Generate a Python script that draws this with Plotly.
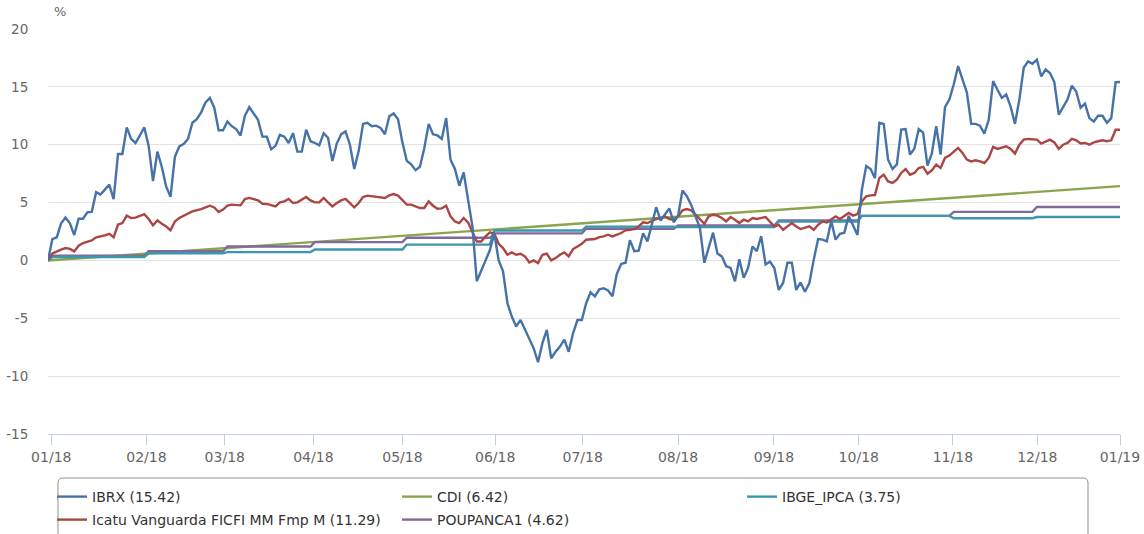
import plotly.graph_objects as go

# ---------------- data ----------------
tick_labels = ["01/18", "02/18", "03/18", "04/18", "05/18", "06/18", "07/18",
               "08/18", "09/18", "10/18", "11/18", "12/18", "01/19"]

# IBRX, one value per trading day (day 0 = first point of the period)
ibrx = [
    0, 1.85, 2.0, 3.2, 3.7, 3.2, 2.2, 3.6, 3.6, 4.15,
    4.2, 5.9, 5.7, 6.1, 6.55, 5.3, 9.2, 9.2, 11.5, 10.5,
    10.15, 10.8, 11.5, 9.9, 6.85, 9.4, 8.1, 6.4, 5.5, 8.95,
    9.85, 10.05, 10.5, 11.9, 12.2, 12.8, 13.65, 14.05, 13.2, 11.25,
    11.25, 12.0, 11.6, 11.35, 10.8, 12.5, 13.25, 12.7, 12.15, 10.7,
    10.7, 9.6, 9.9, 10.85, 10.7, 10.15, 11.0, 9.4, 9.4, 11.3,
    10.3, 10.15,
    9.95, 11.0, 10.6, 8.6, 10.1, 10.9, 11.15, 10.0, 7.9, 9.45,
    11.8, 11.9, 11.6, 11.65, 11.45, 10.9, 12.45, 12.7, 12.2, 10.2,
    8.6, 8.3, 7.8, 8.1, 9.7, 11.8, 10.9, 10.8, 10.5, 12.3,
    8.7, 7.9, 6.45, 7.6, 5.25, 2.95, -1.8, -0.95, 0.05, 0.9,
    2.35, 0.0, -0.95, -3.7, -4.85, -5.7, -5.15, -6.0, -6.7, -7.6,
    -8.8, -7.15, -6.0, -8.45, -7.9, -7.45, -6.85, -7.9, -6.3, -5.15,
    -5.15, -3.7,
    -2.75, -3.1, -2.5, -2.4, -2.6, -3.1, -1.15, -0.3, -0.2, 1.75,
    0.8, 0.85, 2.35, 1.65, 3.1, 4.6, 3.45, 3.95, 4.5, 3.3,
    3.85, 6.05, 5.55, 4.8, 3.8, 2.8, -0.2, 1.05, 2.4, 0.6,
    0.35, -0.5, -0.65, -1.8, 0.1, -1.5, -0.65, 1.2, 0.8, 2.1,
    -0.35, -0.1, -0.65, -2.55, -1.95, -0.2, -0.2, -2.55,
    -1.9, -2.7, -1.95, 0.05, 1.85, 1.8, 1.65, 3.4, 1.8, 2.3,
    2.4, 3.85, 2.95, 2.2,
    6.1, 8.15, 7.9, 7.1, 11.9, 11.8, 8.7, 7.9, 8.3, 11.3,
    11.35, 9.15, 9.65, 11.35, 11.05, 8.2, 9.25, 11.6, 9.15, 13.25,
    13.9, 15.2, 16.8, 15.65, 14.5, 11.8, 11.8, 11.65, 10.95, 12.15,
    15.5, 14.75, 14.05, 14.35, 13.3, 11.8, 13.9, 16.65, 17.2, 17.0,
    17.35, 15.9, 16.5, 16.2, 15.4, 12.6, 13.2, 13.9, 15.1, 14.6,
    13.2, 13.55, 12.3, 12.0, 12.5, 12.5, 11.9, 12.3, 15.4, 15.42,
]
ibrx_day = list(range(len(ibrx)))

icatu_day = [
    0, 1, 3, 4, 5, 6, 7, 8, 10, 11, 13, 14, 15, 16, 17, 18, 19, 20, 22, 23,
    24, 25, 26, 27, 28, 29, 30, 31, 32, 33, 35, 36, 37, 38, 39, 40, 41, 42, 44, 45,
    46, 48, 49, 50, 52, 53, 54, 55, 56, 57, 59, 60, 61,
    62, 63, 64, 65, 66, 67, 68, 69, 70, 71, 72, 73, 74, 76, 77, 78, 79, 80, 81, 82,
    83, 84, 85, 86, 87, 88, 89, 90, 91, 92, 93, 94, 95, 96, 97, 98, 99, 100, 101, 102,
    103, 104, 105, 106, 107, 108, 109, 110, 111, 112, 113, 114, 115, 116, 117, 118,
    119, 120, 121, 122, 123,
    125, 126, 127, 128, 129, 131, 132, 133, 134, 135, 136, 137, 139, 140, 141, 142,
    143, 144, 145, 146, 147, 148, 149, 150, 151, 152, 153, 154, 155, 156, 157, 158,
    159, 160, 161, 162, 164, 165, 166, 167, 168, 169, 170, 171, 172, 174, 175, 176,
    177, 178, 179, 180, 181, 182, 183, 184, 185,
    186, 187, 188, 189, 190, 191, 192, 193, 194, 195, 196, 197, 198, 199, 200, 201,
    202, 203, 204, 205, 206, 207, 208, 209, 210, 211, 212, 213, 214, 215, 216, 217,
    218, 219, 220, 221, 222, 223, 224, 225, 226, 227, 228, 229, 230, 231, 232, 233,
    234, 235, 236, 237, 238, 239, 240, 241, 242, 243, 244, 245,
]
icatu = [
    0, 0.6, 0.93, 1.07, 1.0, 0.78, 1.27, 1.5, 1.73, 2.0, 2.16, 2.3, 2.0, 3.1, 3.23,
    3.87, 3.67, 3.7, 4.0, 3.58,
    3.03, 3.46, 3.17, 2.94, 2.6, 3.37, 3.67, 3.87, 4.04, 4.24, 4.44, 4.58, 4.73,
    4.58, 4.18, 4.39, 4.73, 4.82, 4.76, 5.31,
    5.4, 5.19, 4.9, 4.88, 4.67, 5.02, 5.1, 5.31, 4.96, 5.02, 5.48, 5.19, 5.02,
    5.02, 5.4, 5.02, 4.67, 4.96, 5.19, 5.31, 4.96, 4.58, 4.96, 5.48, 5.6, 5.54,
    5.45, 5.4, 5.62, 5.74, 5.6, 5.25, 4.82,
    4.82, 4.67, 4.53, 4.53, 5.1, 4.73, 4.47, 4.5, 4.73, 3.81, 3.37, 3.23, 3.67,
    3.29, 2.51, 1.64, 1.64, 2.08, 2.42, 2.3,
    1.44, 1.07, 0.49, 0.69, 0.49, 0.58, 0.35, -0.17, 0.0, -0.23, 0.49, 0.58, 0.0,
    0.2, 0.49, 0.69,
    0.35, 0.98, 1.21, 1.44, 1.79,
    1.85, 2.02, 2.08, 2.22, 2.08, 2.37, 2.6, 2.65, 2.71, 2.94, 3.29, 3.23, 3.58,
    3.67, 3.81, 3.58,
    3.52, 3.81, 4.33, 4.44, 4.33, 3.95, 3.52, 3.17, 3.81, 3.95, 3.87, 3.67, 3.37,
    3.75, 3.52, 3.23,
    3.52, 3.37, 3.67, 3.58, 3.75, 3.37, 2.94, 3.08, 2.65, 2.94, 3.23, 2.94, 2.71,
    2.94, 2.65, 3.08,
    3.37, 3.29, 3.58, 3.81, 3.58, 3.81, 4.1, 3.87, 4.0,
    5.1, 5.54, 5.62, 5.65, 7.13, 7.41, 6.83, 6.7, 6.98, 7.56, 7.9, 7.41, 7.56,
    7.99, 8.08, 7.5,
    7.79, 8.28, 7.99, 8.86, 9.06, 9.43, 9.72, 9.29, 8.71, 8.56, 8.65, 8.56, 8.42,
    8.86, 9.81, 9.64,
    9.72, 9.86, 9.64, 9.23, 10.0, 10.44, 10.5, 10.5, 10.44, 10.1, 10.3, 10.44,
    10.2, 9.64, 10.0, 10.15,
    10.5, 10.38, 10.1, 10.15, 10.0, 10.2, 10.3, 10.38, 10.3, 10.38, 11.3, 11.29,
]

# month boundaries (trading day) and monthly cumulative values
month_day = [0, 22, 40, 60, 81, 101, 122, 143, 166, 185, 206, 225, 245]
cdi = [0, 0.58, 1.05, 1.59, 2.12, 2.65, 3.18, 3.74, 4.33, 4.82, 5.39, 5.90, 6.42]
poupanca = [0.40, 0.79, 1.20, 1.58, 1.96, 2.34, 2.74, 3.02, 3.45, 3.85, 4.20, 4.62]
ipca = [0.29, 0.62, 0.72, 0.94, 1.37, 2.58, 2.92, 2.88, 3.36, 3.85, 3.65, 3.75]

names = {
    "ibrx": "IBRX (15.42)",
    "icatu": "Icatu Vanguarda FICFI MM Fmp M (11.29)",
    "cdi": "CDI (6.42)",
    "poup": "POUPANCA1 (4.62)",
    "ipca": "IBGE_IPCA (3.75)",
}

# ---------------- layout constants ----------------
W, H = 1144, 534
ML, MR, MT, MB = 48, 24, 29, 100
PW, PH = W - ML - MR, H - MT - MB
tick_pos = [0.75, 22.5, 40.4, 60.65, 81.0, 102.2, 122.2, 144.0, 165.9, 185.3,
            206.8, 226.1, 245]

COL = {"ibrx": "#4572A7", "icatu": "#AA4643", "cdi": "#89A54E",
       "poup": "#80699B", "ipca": "#3D96AE"}
FONT = "DejaVu Sans"
LW = 2.4


def px_x(px):
    return (px - ML) / PW


def px_y(py):
    return (H - MB - py) / PH


def steps(levels):
    xs, ys = [month_day[0]], [0]
    for m, lvl in enumerate(levels):
        xs += [month_day[m] + 1, month_day[m + 1]]
        ys += [lvl, lvl]
    return xs, ys


fig = go.Figure()

fig.add_trace(go.Scatter(x=month_day, y=cdi, name=names["cdi"], mode="lines",
                         line=dict(color=COL["cdi"], width=LW),
                         legend="legend", legendrank=2))
px_, py_ = steps(poupanca)
fig.add_trace(go.Scatter(x=px_, y=py_, name=names["poup"], mode="lines",
                         line=dict(color=COL["poup"], width=LW),
                         legend="legend2", legendrank=2))
ix_, iy_ = steps(ipca)
fig.add_trace(go.Scatter(x=ix_, y=iy_, name=names["ipca"], mode="lines",
                         line=dict(color=COL["ipca"], width=LW),
                         legend="legend", legendrank=3))
fig.add_trace(go.Scatter(x=icatu_day, y=icatu, name=names["icatu"], mode="lines",
                         line=dict(color=COL["icatu"], width=LW),
                         legend="legend2", legendrank=1))
fig.add_trace(go.Scatter(x=ibrx_day, y=ibrx, name=names["ibrx"], mode="lines",
                         line=dict(color=COL["ibrx"], width=LW),
                         legend="legend", legendrank=1))

leg_common = dict(orientation="h", xanchor="left", yanchor="middle",
                  x=px_x(52), entrywidth=300, entrywidthmode="pixels",
                  font=dict(family=FONT, size=14, color="#333333"),
                  bgcolor="rgba(0,0,0,0)", borderwidth=0, traceorder="normal")

# rounded legend frame
x0, x1, y0, y1, r = 58, 1088, 478, 548, 5
path = (f"M {px_x(x0 + r)},{px_y(y0)} L {px_x(x1 - r)},{px_y(y0)} "
        f"Q {px_x(x1)},{px_y(y0)} {px_x(x1)},{px_y(y0 + r)} "
        f"L {px_x(x1)},{px_y(y1)} L {px_x(x0)},{px_y(y1)} "
        f"L {px_x(x0)},{px_y(y0 + r)} Q {px_x(x0)},{px_y(y0)} {px_x(x0 + r)},{px_y(y0)} Z")

fig.update_layout(
    width=W, height=H,
    margin=dict(l=ML, r=MR, t=MT, b=MB, autoexpand=False),
    paper_bgcolor="white", plot_bgcolor="white",
    font=dict(family=FONT, color="#666666"),
    legend=dict(leg_common, y=px_y(497)),
    legend2=dict(leg_common, y=px_y(520)),
    xaxis=dict(range=[0, 245], showgrid=False, zeroline=False,
               showline=True, linecolor="#C0D0E0", linewidth=1,
               ticks="outside", ticklen=10, tickcolor="#C0D0E0", tickwidth=1,
               tickvals=tick_pos, ticktext=tick_labels, ticklabeloverflow="allow",
               tickfont=dict(family=FONT, size=14, color="#666666")),
    yaxis=dict(range=[-15, 20], tickvals=[-15, -10, -5, 0, 5, 10, 15, 20],
               ticktext=["-15", "-10", "-5", "0", "5", "10", "15", "20"],
               showgrid=True, gridcolor="#E3E3E3", gridwidth=1, zeroline=False,
               ticks="outside", ticklen=16, tickcolor="rgba(0,0,0,0)",
               tickfont=dict(family=FONT, size=13.5, color="#666666")),
    shapes=[dict(type="path", path=path, xref="paper", yref="paper",
                 line=dict(color="#909090", width=1), fillcolor="rgba(0,0,0,0)",
                 layer="below")],
    annotations=[dict(text="%", x=0, y=px_y(12), xref="paper", yref="paper",
                      xanchor="left", yanchor="middle", xshift=4, showarrow=False,
                      font=dict(family=FONT, size=13, color="#666666"))],
)

fig.write_html(
    "out.html",
    config={"displayModeBar": False},
    post_script="document.body.style.margin='0';document.body.style.overflow='hidden';",
)
